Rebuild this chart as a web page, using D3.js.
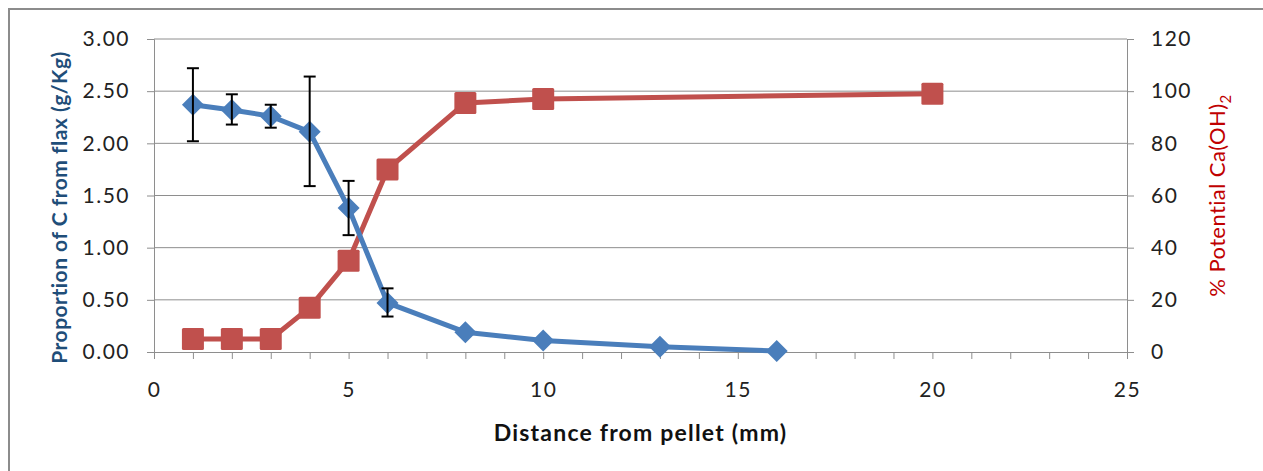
<!DOCTYPE html>
<html>
<head>
<meta charset="utf-8">
<script src="https://cdn.jsdelivr.net/npm/d3@7"></script>
<style>
  body { margin: 0; background: #fff; }
  svg { display: block; font-family: Lato, "Open Sans", sans-serif; }
</style>
</head>
<body>
<div id="chart"></div>
<script>
// distance from pellet (mm)
const carbonX = [1, 2, 3, 4, 5, 6, 8, 10, 13, 16];
const carbonY = [2.37, 2.32, 2.26, 2.11, 1.38, 0.47, 0.19, 0.11, 0.05, 0.01];
const carbonHi = [2.72, 2.47, 2.37, 2.64, 1.64, 0.61, null, null, null, null];
const carbonLo = [2.02, 2.18, 2.15, 1.59, 1.12, 0.34, null, null, null, null];

const caX = [1, 2, 3, 4, 5, 6, 8, 10, 20];
const caY = [5, 5, 5, 17, 35, 70, 95.5, 97, 99];

const xTicks = [0, 5, 10, 15, 20, 25];
const leftTicks = [0, 0.5, 1, 1.5, 2, 2.5, 3];
const rightTicks = [0, 20, 40, 60, 80, 100, 120];

const width = 1263, height = 471;
const margin = {top: 39, right: 136, bottom: 119, left: 154};

const svg = d3.select("#chart").append("svg")
    .attr("width", width)
    .attr("height", height);

// chart frame
svg.append("rect")
    .attr("x", 9).attr("y", 9)
    .attr("width", width + 20).attr("height", height + 20)
    .attr("fill", "none")
    .attr("stroke", "#8c8c8c")
    .attr("stroke-width", 2);

const x = d3.scaleLinear().domain([0, 25]).range([margin.left, width - margin.right]);
const yL = d3.scaleLinear().domain([0, 3]).range([height - margin.bottom, margin.top]);
const yR = d3.scaleLinear().domain([0, 120]).range([height - margin.bottom, margin.top]);

// gridlines
svg.append("g")
    .selectAll("line")
    .data(leftTicks.slice(1))
    .join("line")
    .attr("x1", x(0)).attr("x2", x(25))
    .attr("y1", d => yL(d)).attr("y2", d => yL(d))
    .attr("stroke", "#8e8e8e").attr("stroke-width", 1);

// axes
const gx = svg.append("g")
    .attr("transform", `translate(0,${yL(0)})`)
    .call(d3.axisBottom(x).tickValues(d3.range(0, 26)).tickSize(7)
        .tickFormat(d => xTicks.includes(d) ? d : ""));
gx.select(".domain").attr("stroke", "#8e8e8e");
gx.selectAll(".tick line").attr("stroke", "#8e8e8e");
gx.selectAll(".tick text").attr("y", 45).attr("dy", 0);

const gl = svg.append("g")
    .attr("transform", `translate(${x(0)},0)`)
    .call(d3.axisLeft(yL).tickValues(leftTicks).tickSize(7).tickFormat(d3.format(".2f")));
gl.select(".domain").attr("stroke", "#8e8e8e");
gl.selectAll(".tick line").attr("stroke", "#8e8e8e");
gl.selectAll(".tick text").attr("x", -24);

const gr = svg.append("g")
    .attr("transform", `translate(${x(25)},0)`)
    .call(d3.axisRight(yR).tickValues(rightTicks).tickSize(7));
gr.select(".domain").attr("stroke", "#8e8e8e");
gr.selectAll(".tick line").attr("stroke", "#8e8e8e");
gr.selectAll(".tick text").attr("x", 24);

svg.selectAll(".tick text")
    .attr("font-family", "Lato, 'Open Sans', sans-serif")
    .attr("font-size", 21)
    .attr("letter-spacing", 1.5)
    .attr("fill", "#222");

// axis titles
svg.append("text")
    .attr("x", x(12.5)).attr("y", 441)
    .attr("text-anchor", "middle")
    .attr("font-size", 23).attr("font-weight", "bold")
    .attr("letter-spacing", 1.2)
    .attr("fill", "#111")
    .text("Distance from pellet (mm)");

svg.append("text")
    .attr("transform", `translate(67,${(yL(0) + yL(3)) / 2 + 12}) rotate(-90)`)
    .attr("text-anchor", "middle")
    .attr("font-size", 21).attr("font-weight", "bold")
    .attr("letter-spacing", 0.5)
    .attr("fill", "#1f4e79")
    .text("Proportion of C from flax (g/Kg)");

const rt = svg.append("text")
    .attr("transform", `translate(1225,${(yL(0) + yL(3)) / 2}) rotate(-90)`)
    .attr("text-anchor", "middle")
    .attr("font-size", 22)
    .attr("letter-spacing", 0.4)
    .attr("fill", "#c00000");
rt.append("tspan").text("% Potential Ca(OH)");
rt.append("tspan").attr("font-size", 15).attr("dy", 6).text("2");

// red series (right axis)
const blue = "#4a7ebb", red = "#c0504d";
const caData = caX.map((d, i) => ({x: d, y: caY[i]}));
const cData = carbonX.map((d, i) => ({x: d, y: carbonY[i], hi: carbonHi[i], lo: carbonLo[i]}));

svg.append("path")
    .datum(caData)
    .attr("fill", "none")
    .attr("stroke", red).attr("stroke-width", 5)
    .attr("stroke-linejoin", "round")
    .attr("d", d3.line().x(d => x(d.x)).y(d => yR(d.y)));

svg.append("g")
    .selectAll("rect")
    .data(caData)
    .join("rect")
    .attr("x", d => x(d.x) - 11).attr("y", d => yR(d.y) - 11)
    .attr("width", 22).attr("height", 22)
    .attr("rx", 1.5)
    .attr("fill", red);

// blue series (left axis)
svg.append("path")
    .datum(cData)
    .attr("fill", "none")
    .attr("stroke", blue).attr("stroke-width", 5)
    .attr("stroke-linejoin", "round")
    .attr("d", d3.line().x(d => x(d.x)).y(d => yL(d.y)));

svg.append("g")
    .selectAll("path")
    .data(cData)
    .join("path")
    .attr("transform", d => `translate(${x(d.x)},${yL(d.y)})`)
    .attr("d", "M0,-11L11,0L0,11L-11,0Z")
    .attr("fill", blue);

// error bars
const eb = svg.append("g").attr("stroke", "#000").attr("stroke-width", 2);
const errs = cData.filter(d => d.hi != null);
eb.selectAll(".v").data(errs).join("line")
    .attr("x1", d => x(d.x)).attr("x2", d => x(d.x))
    .attr("y1", d => yL(d.hi)).attr("y2", d => yL(d.lo));
eb.selectAll(".t").data(errs.flatMap(d => [[d.x, d.hi], [d.x, d.lo]])).join("line")
    .attr("x1", d => x(d[0]) - 6).attr("x2", d => x(d[0]) + 6)
    .attr("y1", d => yL(d[1])).attr("y2", d => yL(d[1]));
</script>
</body>
</html>
